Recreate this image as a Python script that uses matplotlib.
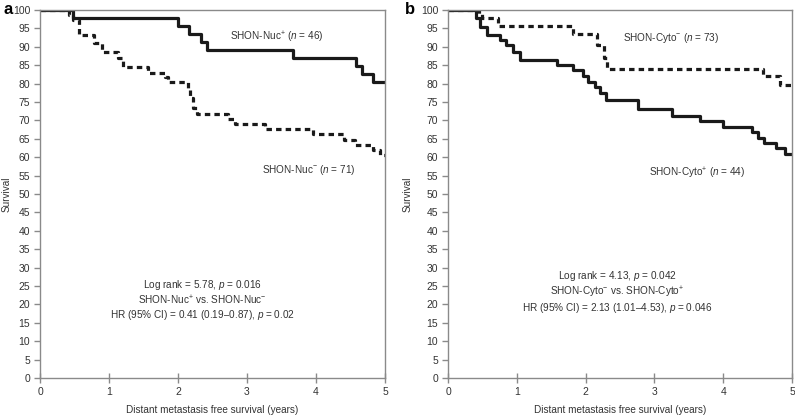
import numpy as np
import matplotlib.pyplot as plt

plt.rcParams['font.family'] = ['Liberation Sans', 'DejaVu Sans']
plt.rcParams['mathtext.fontset'] = 'custom'
plt.rcParams['mathtext.it'] = 'Liberation Sans:italic'
plt.rcParams['mathtext.rm'] = 'Liberation Sans'

# panel a: SHON nuclear
nuc_pos_t = [0, 0.48, 2.0, 2.16, 2.33, 2.42, 3.66, 4.58, 4.66, 4.83, 5.0]
nuc_pos_s = [100, 97.8, 95.6, 93.5, 91.3, 89.1, 87.0, 84.8, 82.6, 80.4, 80.4]
nuc_neg_t = [0, 0.42, 0.48, 0.57, 0.78, 0.9, 1.13, 1.2, 1.57, 1.81, 1.86,
             2.15, 2.17, 2.22, 2.27, 2.73, 2.83, 3.26, 3.96, 4.4, 4.57, 4.83, 4.93, 5.0]
nuc_neg_s = [100, 98.6, 97.2, 93.1, 91.0, 88.6, 87.0, 84.5, 83.0, 81.7, 80.3,
             78.9, 76.0, 73.4, 71.8, 70.4, 69.0, 67.6, 66.2, 64.8, 63.4, 62.0, 60.5, 60.5]

# panel b: SHON cytoplasmic
cyto_pos_t = [0, 0.4, 0.47, 0.56, 0.76, 0.85, 0.95, 1.05, 1.58, 1.81, 1.96, 2.04,
              2.13, 2.21, 2.3, 2.76, 3.26, 3.67, 4.0, 4.42, 4.5, 4.59, 4.77, 4.9, 5.0]
cyto_pos_s = [100, 97.7, 95.5, 93.2, 91.8, 90.4, 88.6, 86.4, 85.0, 83.6, 82.0, 80.5,
              79.0, 77.5, 75.5, 73.0, 71.2, 69.8, 68.3, 66.8, 65.3, 63.8, 62.5, 61.0, 61.0]
cyto_neg_t = [0, 0.45, 0.49, 0.73, 1.81, 2.16, 2.27, 2.31, 4.58, 4.82, 5.0]
cyto_neg_s = [100, 98.8, 97.8, 95.6, 93.5, 90.5, 87.0, 84.0, 82.0, 79.6, 79.6]

yticks = np.arange(0, 101, 5)
xticks = np.arange(0, 6, 1)

fig = plt.figure(figsize=(7.95, 4.15), dpi=100)
axa = fig.add_axes([40 / 795, 1 - 378 / 415, 345 / 795, 368 / 415])
axb = fig.add_axes([448 / 795, 1 - 378 / 415, 344 / 795, 368 / 415])

gray = '#8a8a8a'
txt = '#333333'
fs = 7.2


def style(ax, ylab_x):
    ax.set_xlim(0, 5)
    ax.set_ylim(0, 100)
    ax.set_xticks(xticks)
    ax.set_yticks(yticks)
    for sp in ax.spines.values():
        sp.set_color(gray)
        sp.set_linewidth(1.0)
    ax.tick_params(axis='both', colors=gray, labelcolor=txt, labelsize=7.5,
                   length=4, width=1.0, pad=3)
    ax.tick_params(axis='x', direction='inout', length=7)
    ax.set_xlabel('Distant metastasis free survival (years)', fontsize=fs,
                  color=txt, labelpad=6)
    ax.set_ylabel('Survival', fontsize=fs, color=txt)
    ax.yaxis.set_label_coords(ylab_x, 0.5)


ls_dash = (0, (1.7, 1.3))

ax = axa
ax.step(nuc_pos_t, nuc_pos_s, where='post', color='#1a1a1a', lw=2.3)
ax.step(nuc_neg_t, nuc_neg_s, where='post', color='#1a1a1a', lw=2.3,
        linestyle=ls_dash)
style(ax, -0.082)
ax.text(3.43, 92.6, 'SHON-Nuc$^{+}$ ($n$ = 46)', ha='center', va='center',
        fontsize=fs, color=txt)
ax.text(3.9, 56.5, 'SHON-Nuc$^{-}$ ($n$ = 71)', ha='center', va='center',
        fontsize=fs, color=txt)
ax.text(2.36, 21.2, 'Log rank = 5.78, $p$ = 0.016\nSHON-Nuc$^{+}$ vs. SHON-Nuc$^{-}$\n'
        'HR (95% CI) = 0.41 (0.19–0.87), $p$ = 0.02',
        ha='center', va='center', fontsize=fs, color=txt, linespacing=1.15)

ax = axb
ax.step(cyto_pos_t, cyto_pos_s, where='post', color='#1a1a1a', lw=2.3)
ax.step(cyto_neg_t, cyto_neg_s, where='post', color='#1a1a1a', lw=2.3,
        linestyle=ls_dash)
style(ax, -0.102)
ax.text(3.25, 92.4, 'SHON-Cyto$^{-}$ ($n$ = 73)', ha='center', va='center',
        fontsize=fs, color=txt)
ax.text(3.62, 55.7, 'SHON-Cyto$^{+}$ ($n$ = 44)', ha='center', va='center',
        fontsize=fs, color=txt)
ax.text(2.46, 23.4, 'Log rank = 4.13, $p$ = 0.042\nSHON-Cyto$^{-}$ vs. SHON-Cyto$^{+}$\n'
        'HR (95% CI) = 2.13 (1.01–4.53), $p$ = 0.046',
        ha='center', va='center', fontsize=fs, color=txt, linespacing=1.15)

fig.text(4 / 795, 1 - 10 / 415, 'a', fontsize=12, fontweight='bold', va='center')
fig.text(405 / 795, 1 - 10 / 415, 'b', fontsize=12, fontweight='bold', va='center')

fig.savefig('out.png', dpi=100)
